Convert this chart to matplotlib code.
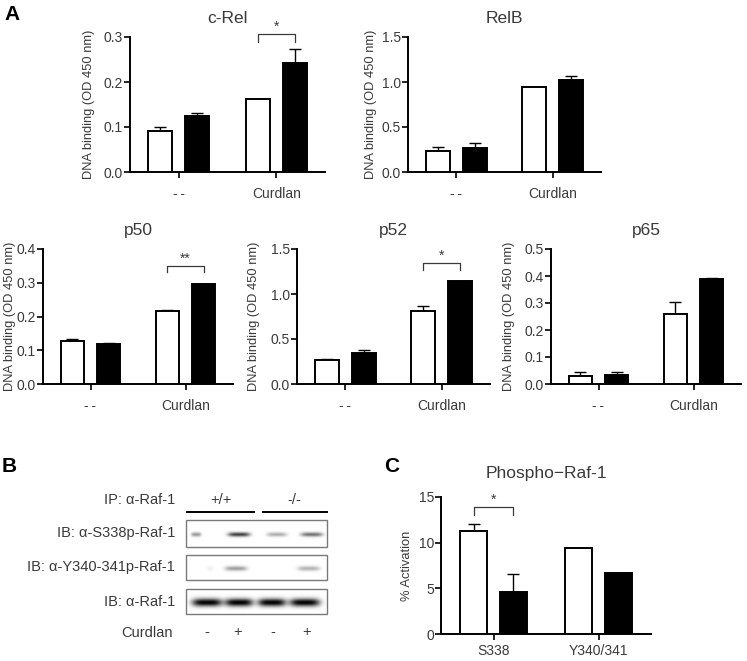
import matplotlib
import matplotlib.pyplot as plt
import numpy as np
from matplotlib.patches import Rectangle

matplotlib.use("Agg")

plt.rcParams["font.family"] = ["Liberation Sans", "DejaVu Sans"]

TXT = "#3a3a3a"
W, H = 747, 661

# ---- panel A data ----
groups = ["-\u2009-", "Curdlan"]

crel_wt = [0.092, 0.163]
crel_wt_err = [0.009, 0.0]
crel_ko = [0.125, 0.243]
crel_ko_err = [0.007, 0.030]

relb_wt = [0.235, 0.945]
relb_wt_err = [0.040, 0.005]
relb_ko = [0.270, 1.020]
relb_ko_err = [0.050, 0.045]

p50_wt = [0.127, 0.217]
p50_wt_err = [0.005, 0.002]
p50_ko = [0.120, 0.295]
p50_ko_err = [0.001, 0.001]

p52_wt = [0.270, 0.810]
p52_wt_err = [0.010, 0.060]
p52_ko = [0.350, 1.140]
p52_ko_err = [0.030, 0.010]

p65_wt = [0.028, 0.258]
p65_wt_err = [0.015, 0.047]
p65_ko = [0.035, 0.390]
p65_ko_err = [0.008, 0.002]

# ---- panel C data ----
sites = ["S338", "Y340/341"]
raf_wt = [11.3, 9.4]
raf_wt_err = [0.7, 0.0]
raf_ko = [4.6, 6.7]
raf_ko_err = [2.0, 0.0]

# ---- panel B band intensities (lanes: +/+ -, +/+ +, -/- -, -/- +) ----
blot_rows = ["IB: \u03b1-S338p-Raf-1", "IB: \u03b1-Y340-341p-Raf-1", "IB: \u03b1-Raf-1"]
band_s338 = [0.40, 0.75, 0.32, 0.55]
band_y340 = [0.06, 0.38, 0.00, 0.30]
band_raf1 = [1.00, 1.00, 1.00, 1.00]
curdlan_signs = ["-", "+", "-", "+"]


def px_axes(fig, x0, y0, x1, y1):
    return fig.add_axes([x0 / W, 1 - y1 / H, (x1 - x0) / W, (y1 - y0) / H])


def bar_panel(ax, title, cats, wt, wt_err, ko, ko_err, ymax, ystep, ylabel, label_x,
              fmt="{:.1f}", title_pad=10, tick_pad=7):
    x = np.arange(len(cats))
    off, bw = 0.19, 0.25
    ax.bar(x - off, wt, bw, color="white", edgecolor="black", linewidth=1.4, zorder=3)
    ax.bar(x + off, ko, bw, color="black", edgecolor="black", linewidth=1.4, zorder=3)
    ax.errorbar(x - off, wt, yerr=[np.zeros(len(wt)), wt_err], fmt="none",
                ecolor="black", elinewidth=1.0, capsize=4, capthick=1.0, zorder=2)
    ax.errorbar(x + off, ko, yerr=[np.zeros(len(ko)), ko_err], fmt="none",
                ecolor="black", elinewidth=1.0, capsize=4, capthick=1.0, zorder=2)
    ax.set_xlim(-0.5, 1.5)
    ax.set_ylim(0, ymax)
    ticks = np.arange(0, ymax + ystep / 2, ystep)
    ax.set_yticks(ticks, [fmt.format(t) for t in ticks])
    ax.set_xticks(x, cats)
    for s in ["top", "right"]:
        ax.spines[s].set_visible(False)
    for s in ["left", "bottom"]:
        ax.spines[s].set_linewidth(1.4)
    ax.tick_params(axis="y", length=4, width=1.2, pad=1, labelsize=10, labelcolor=TXT)
    ax.tick_params(axis="x", length=4, width=1.2, pad=tick_pad, labelsize=10, labelcolor=TXT)
    ax.set_title(title, fontsize=12.5, color=TXT, pad=title_pad)
    ax.set_ylabel(ylabel, fontsize=9.3, color=TXT)
    ax.yaxis.set_label_coords(label_x, 0.5)
    ax.set_facecolor("none")
    return x, off


def bracket(ax, x1, x2, y_leg, y_top, star):
    ax.plot([x1, x1, x2, x2], [y_leg, y_top, y_top, y_leg], color=TXT, lw=0.9,
            clip_on=False)
    ax.text((x1 + x2) / 2, y_top, star, ha="center", va="bottom", fontsize=10,
            color=TXT, clip_on=False)


fig = plt.figure(figsize=(W / 100, H / 100), dpi=100, facecolor="white")
ylab = "DNA binding (OD 450 nm)"

ax = px_axes(fig, 130, 37, 325, 172)
x, off = bar_panel(ax, "c-Rel", groups, crel_wt, crel_wt_err, crel_ko, crel_ko_err,
                   0.3, 0.1, ylab, -0.18)
bracket(ax, x[1] - off, x[1] + off, 0.29, 0.307, "*")

ax = px_axes(fig, 408, 37, 601, 172)
bar_panel(ax, "RelB", groups, relb_wt, relb_wt_err, relb_ko, relb_ko_err,
          1.5, 0.5, ylab, -0.16)

ax = px_axes(fig, 43, 249, 233, 384)
x, off = bar_panel(ax, "p50", groups, p50_wt, p50_wt_err, p50_ko, p50_ko_err,
                   0.4, 0.1, ylab, -0.14)
bracket(ax, x[1] - off, x[1] + off, 0.332, 0.35, "**")

ax = px_axes(fig, 297, 249, 490, 384)
x, off = bar_panel(ax, "p52", groups, p52_wt, p52_wt_err, p52_ko, p52_ko_err,
                   1.5, 0.5, ylab, -0.19)
bracket(ax, x[1] - off, x[1] + off, 1.27, 1.344, "*")

ax = px_axes(fig, 551, 249, 741, 384)
bar_panel(ax, "p65", groups, p65_wt, p65_wt_err, p65_ko, p65_ko_err,
          0.5, 0.1, ylab, -0.19)

ax = px_axes(fig, 441, 497, 651, 634)
x, off = bar_panel(ax, "Phospho\u2212Raf-1", sites, raf_wt, raf_wt_err, raf_ko, raf_ko_err,
                   15, 5, "% Activation", -0.133, fmt="{:.0f}", title_pad=14, tick_pad=3)
bracket(ax, x[0] - off, x[0] + off, 13.0, 13.9, "*")

# ---- overlay in pixel units for panel letters and the blot ----
ov = fig.add_axes([0, 0, 1, 1], zorder=-1)
ov.set_xlim(0, W)
ov.set_ylim(H, 0)
ov.axis("off")

ov.text(4, 14, "A", fontsize=15, fontweight="bold", va="center", ha="left")
ov.text(2, 466, "B", fontsize=15, fontweight="bold", va="center", ha="left")
ov.text(384, 466, "C", fontsize=15, fontweight="bold", va="center", ha="left")

curdlan_x = [207, 238, 273, 307]
bx0, bx1 = 186, 327
row_boxes = [(520, 547), (555, 580), (589, 614)]
row_bands = [band_s338, band_y340, band_raf1]
row_lanes = [[196, 239, 277, 312], [210, 236, 277, 309], [207, 239, 272, 305]]
row_bw = [[5, 11, 10, 11], [3, 11, 10, 11], [15, 14, 14, 15]]
row_bh = [2.2, 2.4, 4.0]

xs = np.linspace(bx0, bx1, 300)
for (y0, y1), label, bands, lx_row, bw_row, bhgt in zip(row_boxes, blot_rows, row_bands,
                                                       row_lanes, row_bw, row_bh):
    ys = np.linspace(y0, y1, 60)
    X, Y = np.meshgrid(xs, ys)
    yc = (y0 + y1) / 2 + 1
    img = np.zeros_like(X)
    for lx, inten, bwid in zip(lx_row, bands, bw_row):
        img += inten * np.exp(-((X - lx) / bwid) ** 4 - ((Y - yc) / bhgt) ** 2)
    ov.imshow(np.clip(img, 0, 1), cmap="gray_r", vmin=0, vmax=1.0,
              extent=(bx0, bx1, y1, y0), aspect="auto", interpolation="bilinear")
    ov.add_patch(Rectangle((bx0, y0), bx1 - bx0, y1 - y0, fill=False,
                           edgecolor="#7a7a7a", lw=1.0))
    ov.text(175, (y0 + y1) / 2, label, ha="right", va="center", fontsize=10.5, color=TXT)

ov.set_xlim(0, W)
ov.set_ylim(H, 0)

ov.text(175, 500, "IP: \u03b1-Raf-1", ha="right", va="center", fontsize=10.5, color=TXT)
ov.plot([187, 254], [512, 512], color="black", lw=1.4)
ov.plot([263, 327], [512, 512], color="black", lw=1.4)
ov.text(221, 500, "+/+", ha="center", va="center", fontsize=10.5, color=TXT)
ov.text(294, 500, "-/-", ha="center", va="center", fontsize=10.5, color=TXT)
ov.text(173, 633, "Curdlan", ha="right", va="center", fontsize=10.5, color=TXT)
for lx, sign in zip(curdlan_x, curdlan_signs):
    ov.text(lx, 632, sign, ha="center", va="center", fontsize=10.5, color=TXT)

fig.savefig("out.png", dpi=100, facecolor="white")
